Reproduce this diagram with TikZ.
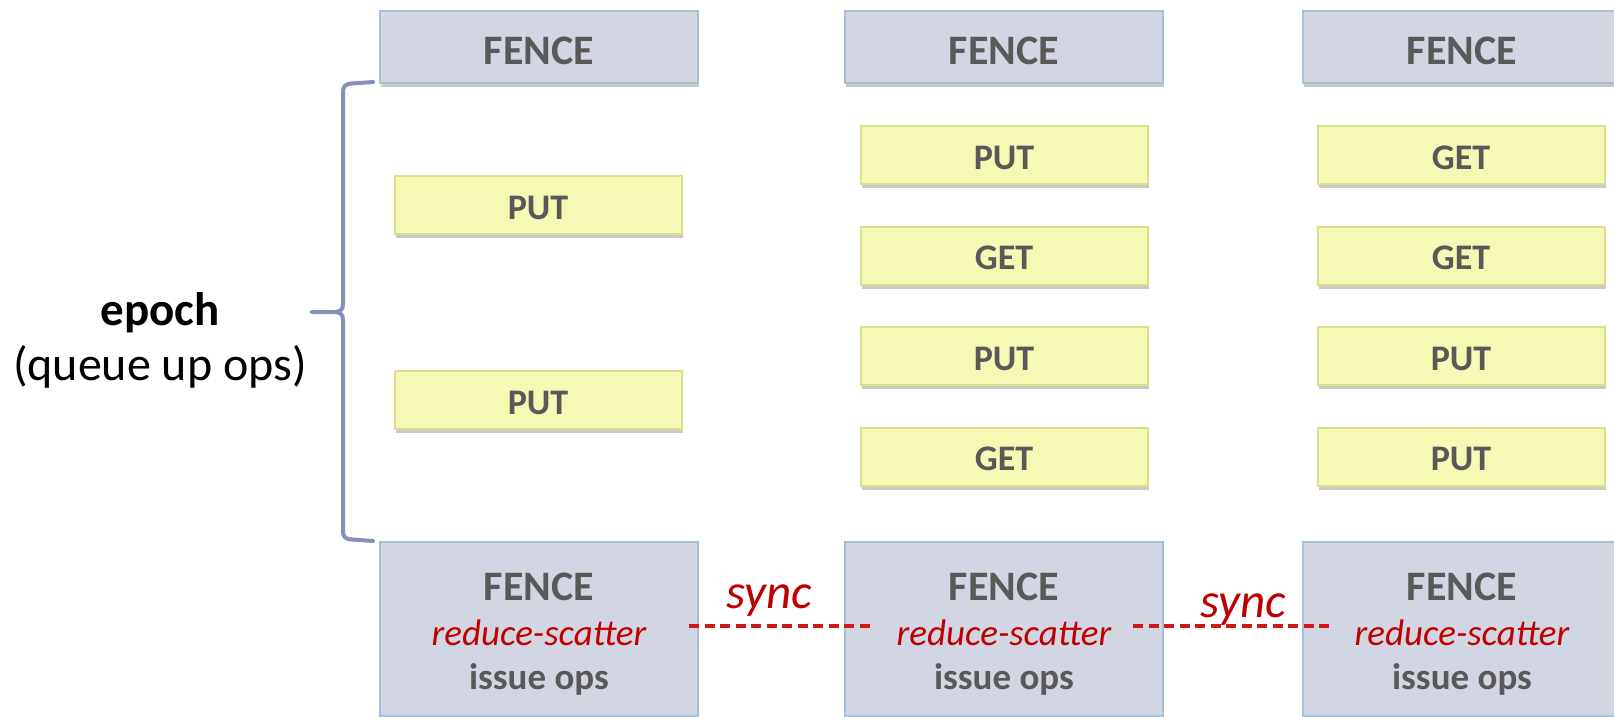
\documentclass[tikz,border=0pt]{standalone}
\usepackage{fontspec}
\setmainfont{Carlito}
\usetikzlibrary{shadows,calc}
\definecolor{fencefill}{RGB}{209,214,226}
\definecolor{fenceline}{RGB}{168,192,214}
\definecolor{opfill}{RGB}{245,249,180}
\definecolor{opline}{RGB}{218,224,138}
\definecolor{txtgray}{RGB}{89,89,89}
\definecolor{syncred}{RGB}{192,0,0}
\definecolor{dashred}{RGB}{210,24,18}
\definecolor{bracecol}{RGB}{131,145,185}
\begin{document}
\begin{tikzpicture}[x=1pt,y=-1pt,
  boxshadow/.style={drop shadow={shadow xshift=1pt, shadow yshift=-4pt, opacity=0.3, fill=black!70}},
  fencebox/.style={draw=fenceline, line width=2pt, fill=fencefill, minimum width=318pt, inner sep=0pt, boxshadow, text=txtgray, font=\fontsize{42}{50}\selectfont\bfseries},
  topfence/.style={fencebox, minimum height=72pt, text height=35pt, text depth=0pt},
  botfence/.style={fencebox, minimum height=174pt},
  opbox/.style={draw=opline, line width=2pt, fill=opfill, minimum width=287pt, minimum height=58pt, inner sep=0pt, boxshadow, text=txtgray, font=\fontsize{36}{43}\selectfont\bfseries, text height=28pt, text depth=0pt},
  fencetxt/.style={anchor=base, inner sep=0pt, text=txtgray, font=\fontsize{42}{50}\selectfont\bfseries},
  redtxt/.style={anchor=base, inner sep=0pt, text=syncred, font=\fontsize{37}{44}\selectfont\itshape},
  issuetxt/.style={anchor=base, inner sep=0pt, text=txtgray, font=\fontsize{37}{44}\selectfont\bfseries},
  synctxt/.style={anchor=base, inner sep=0pt, text=syncred, font=\fontsize{49}{58}\selectfont\itshape},
  syncline/.style={draw=dashred, line width=4.5pt, dash pattern=on 10pt off 5.5pt},
  bracestyle/.style={draw=bracecol, line width=4pt, line cap=round, line join=round},
  epochtxt/.style={anchor=base, inner sep=0pt, text=black, font=\fontsize{48}{57}\selectfont}
]
\useasboundingbox (0,0) rectangle (1614,717);

% top fences
\node[topfence] (t1) at (539,47) {FENCE};
\node[topfence] (t2) at (1004,47) {FENCE};
\node[topfence] (t3) at (1462,47) {FENCE};

% column 1 ops
\node[opbox] (a1) at (538,205) {PUT};
\node[opbox] (a2) at (538,400) {PUT};

% column 2 ops
\node[opbox] (c1) at (1004,155) {PUT};
\node[opbox] (c2) at (1004,255.5) {GET};
\node[opbox] (c3) at (1004,356) {PUT};
\node[opbox] (c4) at (1004,456.5) {GET};

% column 3 ops
\node[opbox] (e1) at (1461,155) {GET};
\node[opbox] (e2) at (1461,255.5) {GET};
\node[opbox] (e3) at (1461,356) {PUT};
\node[opbox] (e4) at (1461,456.5) {PUT};

% bottom fences
\foreach \n/\x in {b1/539,b2/1004,b3/1462}{
  \node[botfence] (\n) at (\x,629) {};
  \node[fencetxt] (\n f) at ($(\n.north)+(0,59)$) {FENCE};
  \node[redtxt] (\n r) at ($(\n.north)+(0,104)$) {reduce-scatter};
  \node[issuetxt] (\n i) at ($(\n.north)+(0,148)$) {issue ops};
}

% sync connectors
\coordinate (d1a) at ($(b1.east)+(-10,-3)$);
\coordinate (d1b) at ($(b2.west)+(29,-3)$);
\coordinate (d2a) at ($(b2.east)+(-31,-3)$);
\coordinate (d2b) at ($(b3.west)+(32,-3)$);
\draw[syncline] (d1a) -- (d1b);
\draw[syncline] (d2a) -- (d2b);
\node[synctxt] (s1) at (769,608) {sync};
\node[synctxt] (s2) at (1243,617) {sync};

% brace
\coordinate (bt) at (373,82);
\coordinate (bb) at (373,541);
\coordinate (btip) at (312,312);
\draw[bracestyle] (bt) -- (352,83.5) .. controls (345,84) and (343,86) .. (343,93)
  -- (343,304) .. controls (343,310) and (340,312) .. (334,312) -- (btip)
  -- (334,312) .. controls (340,312) and (343,314) .. (343,320)
  -- (343,531) .. controls (343,537) and (345,539) .. (352,539.5) -- (bb);

% epoch label
\node[epochtxt, font=\fontsize{47}{56}\selectfont\bfseries] (ep) at (160,325) {epoch};
\node[epochtxt] (qu) at (160,380) {(queue up ops)};
\end{tikzpicture}
\end{document}
